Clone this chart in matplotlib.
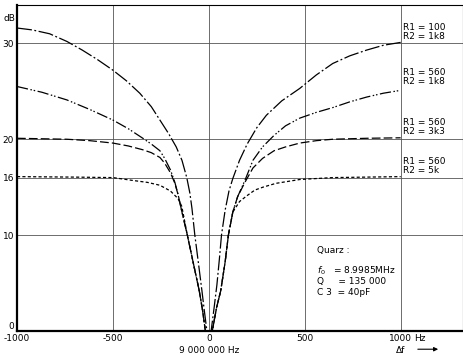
import matplotlib as mpl
mpl.use('Agg')
import matplotlib.pyplot as plt

# Delta f (Hz) and attenuation (dB)
# R1 = 100, R2 = 1k8
DF_1 = [-1000, -920, -830, -740, -660, -580, -500, -430, -360, -300, -255, -210,
        -170, -140, -115, -99, -88, -73, -55, -36, -24, -10,
        12, 28, 42, 55, 66, 85, 105, 125, 160, 200, 250, 300, 380, 474,
        560, 646, 735, 823, 910, 1000]
DB_1 = [31.6, 31.4, 31.0, 30.2, 29.3, 28.3, 27.2, 26.1, 24.8, 23.4, 22.0, 20.6,
        19.2, 17.8, 16.0, 14.4, 12.8, 10.0, 7.2, 4.2, 2.2, 0.0,
        0.0, 2.5, 4.8, 7.5, 10.0, 12.6, 14.6, 15.9, 17.8, 19.5, 21.2, 22.5, 24.0, 25.3,
        26.7, 27.9, 28.7, 29.3, 29.8, 30.1]

# R1 = 560, R2 = 1k8
DF_2 = [-1000, -870, -740, -620, -500, -420, -344, -300, -255, -230, -200, -177,
        -160, -140, -112, -80, -50, -33, -18,
        18, 40, 62, 85, 102, 125, 150, 188, 230, 280, 340, 400, 474,
        560, 646, 735, 823, 910, 1000]
DB_2 = [25.5, 24.9, 24.1, 23.1, 22.0, 21.1, 20.1, 19.5, 18.8, 18.0, 16.8, 15.5,
        14.2, 12.4, 10.0, 7.0, 4.2, 2.2, 0.0,
        0.0, 2.4, 4.2, 7.2, 10.0, 12.4, 14.0, 15.7, 17.8, 19.2, 20.4, 21.4, 22.2,
        22.8, 23.3, 23.9, 24.4, 24.8, 25.1]

# R1 = 560, R2 = 3k3
DF_3 = [-1000, -870, -740, -620, -500, -420, -344, -300, -255, -230, -200, -177,
        -160, -140, -112, -80, -50, -33, -18,
        18, 40, 62, 85, 102, 125, 150, 188, 230, 280, 340, 400, 474,
        560, 646, 823, 1000]
DB_3 = [20.1, 20.05, 20.0, 19.85, 19.6, 19.3, 18.9, 18.6, 18.1, 17.5, 16.5, 15.4,
        14.2, 12.4, 10.0, 7.0, 4.2, 2.2, 0.0,
        0.0, 2.4, 4.2, 7.2, 10.0, 12.4, 14.0, 15.5, 17.0, 18.0, 18.8, 19.2, 19.6,
        19.85, 20.0, 20.1, 20.15]

# R1 = 560, R2 = 5k
DF_4 = [-1000, -700, -500, -396, -320, -255, -200, -160, -141,
        -112, -80, -50, -33, -18,
        18, 40, 62, 85, 102, 125, 160, 198, 240, 282, 350, 474, 646, 1000]
DB_4 = [16.1, 16.05, 16.0, 15.7, 15.5, 15.2, 14.6, 13.8, 13.0,
        10.0, 7.0, 4.2, 2.2, 0.0,
        0.0, 2.4, 4.2, 7.2, 10.0, 12.4, 13.5, 14.1, 14.7, 15.0, 15.4, 15.8, 16.0, 16.1]

CURVE_LABELS = ["R1 = 100\nR2 = 1k8", "R1 = 560\nR2 = 1k8",
                "R1 = 560\nR2 = 3k3", "R1 = 560\nR2 = 5k"]
LABEL_DB = [31.2, 26.5, 21.3, 17.2]

X_TICKS = [-1000, -500, 0, 500, 1000]
X_TICK_LABELS = ["-1000", "-500", "0", "500", "1000"]
Y_TICKS = [0, 10, 16, 20, 30]

QUARZ_LINES = ["Quarz :", "$f_0$   = 8.9985MHz", "Q     = 135 000", "C 3  = 40pF"]
QUARZ_DB = [8.4, 6.3, 5.15, 4.0]

FONT_SIZE = 6.5

fig = plt.figure(figsize=(4.64, 3.55), dpi=100)
ax = fig.add_axes([17 / 464, 1 - 331 / 355, (463 - 17) / 464, (331 - 5) / 355])

ax.set_xlim(-1000, 1325)
ax.set_ylim(0, 34)

for x in X_TICKS[1:]:
    ax.axvline(x, color='#555555', lw=0.6, zorder=1)
for y in Y_TICKS[1:]:
    ax.axhline(y, color='#555555', lw=0.6, zorder=1)

ax.plot(DF_1, DB_1, color='k', lw=0.9, dashes=(12, 2, 1.5, 2))
ax.plot(DF_2, DB_2, color='k', lw=0.9, dashes=(9, 2, 1.2, 1.5, 1.2, 2))
ax.plot(DF_3, DB_3, color='k', lw=0.9, dashes=(7, 2.5))
ax.plot(DF_4, DB_4, color='k', lw=0.9, dashes=(2.5, 1.8))

for lab, y in zip(CURVE_LABELS, LABEL_DB):
    ax.text(1010, y, lab, fontsize=FONT_SIZE, va='center', ha='left', linespacing=1.0)

for line, y in zip(QUARZ_LINES, QUARZ_DB):
    ax.text(565, y, line, fontsize=FONT_SIZE, va='center', ha='left')

ax.set_xticks(X_TICKS)
ax.set_xticklabels(X_TICK_LABELS)
ax.set_yticks(Y_TICKS)
ax.tick_params(length=0, labelsize=FONT_SIZE, pad=2)
ax.get_yticklabels()[0].set_verticalalignment('bottom')

ax.text(-1010, 32.6, "dB", fontsize=FONT_SIZE, ha='right', va='center')
ax.text(0, -2.0, "9 000 000 Hz", fontsize=FONT_SIZE, ha='center', va='center')
ax.text(1070, -0.75, "Hz", fontsize=FONT_SIZE, ha='left', va='center')
ax.text(1000, -2.0, "\u0394f", fontsize=FONT_SIZE, ha='center', va='center')
ax.annotate("", xy=(1210, -1.9), xytext=(1075, -1.9),
            arrowprops=dict(arrowstyle='-|>', color='k', lw=0.8, mutation_scale=6),
            annotation_clip=False)

for side in ['left', 'bottom']:
    ax.spines[side].set_linewidth(1.6)
for side in ['top', 'right']:
    ax.spines[side].set_linewidth(0.8)

fig.savefig('out.png', dpi=100)
